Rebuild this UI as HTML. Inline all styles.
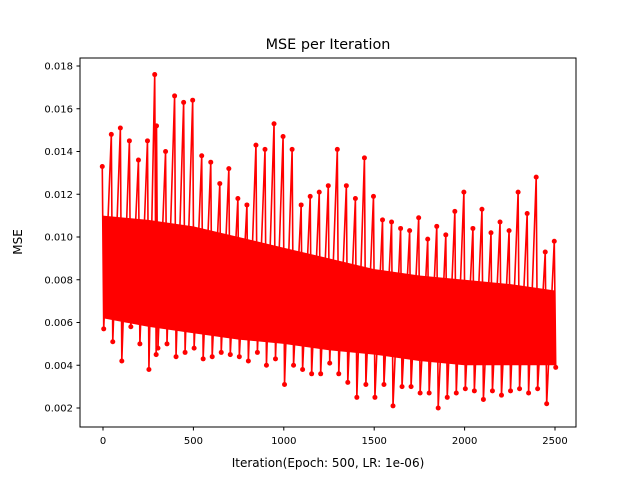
<!DOCTYPE html>
<html><head><meta charset="utf-8">
<style>
body{margin:0;background:#fff;font-family:"Liberation Sans","DejaVu Sans",sans-serif;}
svg text{font-family:"DejaVu Sans","Liberation Sans",sans-serif;}
</style></head>
<body>
<svg id="chart" width="640" height="480" viewBox="0 0 640 480">
<rect width="640" height="480" fill="#fff"/>
<g id="plot"></g>
<g id="axes"></g>
<text x="328" y="49" font-size="14.4" text-anchor="middle">MSE per Iteration</text>
<text x="328" y="467" font-size="12" text-anchor="middle">Iteration(Epoch: 500, LR: 1e-06)</text>
<text x="22" y="242" font-size="12" text-anchor="middle" transform="rotate(-90 22 242)">MSE</text>
</svg>
<script>
const binIters = [0,50,100,150,200,250,290,300,350,400,450,500,550,600,650,700,750,800,850,900,950,1000,1050,1100,1150,1200,1250,1300,1350,1400,1450,1500,1550,1600,1650,1700,1750,1800,1850,1900,1950,2000,2050,2100,2150,2200,2250,2300,2350,2400,2450,2500];
const peaks = [0.0133,0.0148,0.0151,0.0145,0.0136,0.0145,0.0176,0.0152,0.0140,0.0166,0.0163,0.0164,0.0138,0.0135,0.0125,0.0132,0.0118,0.0115,0.0143,0.0141,0.0153,0.0147,0.0141,0.0115,0.0119,0.0121,0.0124,0.0141,0.0124,0.0118,0.0137,0.0119,0.0108,0.0107,0.0104,0.0103,0.0109,0.0099,0.0105,0.0101,0.0112,0.0121,0.0104,0.0113,0.0102,0.0107,0.0103,0.0121,0.0111,0.0128,0.0093,0.0098];
const troughs = [0.0057,0.0051,0.0042,0.0058,0.0050,0.0038,0.0045,0.0048,0.0050,0.0044,0.0046,0.0048,0.0043,0.0044,0.0046,0.0045,0.0044,0.0042,0.0046,0.0040,0.0043,0.0031,0.0040,0.0038,0.0036,0.0036,0.0041,0.0036,0.0032,0.0025,0.0031,0.0025,0.0031,0.0021,0.0030,0.0030,0.0027,0.0027,0.0020,0.0025,0.0027,0.0029,0.0028,0.0024,0.0028,0.0026,0.0028,0.0029,0.0027,0.0029,0.0022,0.0039];
const coreIters = [0,250,500,750,1000,1250,1500,1750,2000,2250,2500];
const coreHi = [0.0110,0.0108,0.0105,0.0100,0.0095,0.0090,0.0085,0.0082,0.0080,0.0078,0.0075];
const coreLo = [0.0062,0.0058,0.0055,0.0052,0.0050,0.0047,0.0045,0.0042,0.0040,0.0040,0.0040];
const xTicks = [0,500,1000,1500,2000,2500];
const yTicks = [0.002,0.004,0.006,0.008,0.010,0.012,0.014,0.016,0.018];
const yTickLabels = ["0.002","0.004","0.006","0.008","0.010","0.012","0.014","0.016","0.018"];

const NS="http://www.w3.org/2000/svg";
const L=80,R=576,T=58,B=427;
const xs=v=>103+v*(452/2500);
const ys=v=>408-(v-0.002)*(342/0.016);
const plot=document.getElementById('plot'), axes=document.getElementById('axes');
function mk(tag,attrs,parent){const e=document.createElementNS(NS,tag);for(const k in attrs)e.setAttribute(k,attrs[k]);parent.appendChild(e);return e;}

let pts=coreIters.map((x,i)=>xs(x)+','+ys(coreHi[i]));
pts=pts.concat(coreIters.map((x,i)=>xs(x)+','+ys(coreLo[i])).reverse());
const band=mk('polygon',{points:pts.join(' '),fill:'#ff0000'},plot);



const seq=[];
binIters.forEach((x,i)=>{const w=452/2500*4;seq.push([xs(x)-w,peaks[i]]);seq.push([xs(x)+w,troughs[i]]);});
const line=mk('polyline',{points:seq.map(p=>p[0]+','+ys(p[1])).join(' '),fill:'none',stroke:'#ff0000','stroke-width':1.6},plot);


seq.forEach(p=>{const c=mk('circle',{cx:p[0],cy:ys(p[1]),r:2.5,fill:'#ff0000'},plot);

});

const fr=mk('rect',{x:L,y:T,width:R-L,height:B-T,fill:'none',stroke:'#000','stroke-width':1},axes);


xTicks.forEach(v=>{const x=xs(v);
mk('line',{x1:x,x2:x,y1:B,y2:B+3.5,stroke:'#000'},axes);
const t=mk('text',{x:x,y:B+17,'font-size':10,'text-anchor':'middle'},axes);t.textContent=v;

});
yTicks.forEach((v,i)=>{const y=ys(v);
mk('line',{x1:L-3.5,x2:L,y1:y,y2:y,stroke:'#000'},axes);
const t=mk('text',{x:L-7,y:y+3.5,'font-size':10,'text-anchor':'end'},axes);t.textContent=yTickLabels[i];

});
</script>
</body></html>
